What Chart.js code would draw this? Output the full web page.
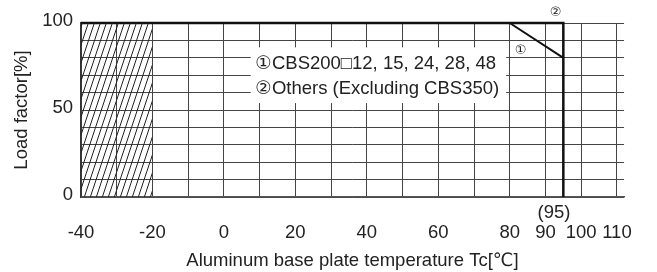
<!DOCTYPE html>
<html>
<head>
<meta charset="utf-8">
<script src="https://cdn.jsdelivr.net/npm/chart.js@4/dist/chart.umd.min.js"></script>
<style>
  html, body { margin: 0; padding: 0; background: #fff; }
  #wrap { width: 657px; height: 272px; }
</style>
</head>
<body>
<div id="wrap"><canvas id="derating"></canvas></div>
<script>
// derating curves, temperature [C] vs load factor [%]
const curve1Temp = [80, 95];
const curve1Load = [100, 80];
const curve2Temp = [-40, 95, 95];
const curve2Load = [100, 100, 0];
const hatchTemp = [-40, -20];
const hatchLoad = [100, 100];
const xTickLabels = [-40, -20, 0, 20, 40, 60, 80, 90, 100, 110];
const yTickLabels = [0, 50, 100];
const legendLines = ['\u2460CBS200\u25A112, 15, 24, 28, 48', '\u2461Others (Excluding CBS350)'];

const FONT = "'Liberation Sans', Arial, 'DejaVu Sans', sans-serif";
const INK = '#222';
const FS = 18.5;

function hatchPattern() {
  const c = document.createElement('canvas');
  c.width = 6; c.height = 18;
  const g = c.getContext('2d');
  g.strokeStyle = '#222';
  g.lineWidth = 1;
  g.beginPath();
  g.moveTo(0, 18); g.lineTo(6, 0);
  g.moveTo(-6, 18); g.lineTo(0, 0);
  g.moveTo(6, 18); g.lineTo(12, 0);
  g.stroke();
  return c.getContext('2d').createPattern(c, 'repeat');
}

function pts(xs, ys) {
  return xs.map((x, i) => ({ x: x, y: ys[i] }));
}

const notes = {
  id: 'notes',
  afterDatasetsDraw(chart) {
    const ctx = chart.ctx;
    const xs = chart.scales.x, ys = chart.scales.y;
    ctx.save();
    // white box behind the legend text
    const bx0 = xs.getPixelForValue(7.5), bx1 = xs.getPixelForValue(79);
    const by0 = ys.getPixelForValue(86), by1 = ys.getPixelForValue(54);
    ctx.fillStyle = '#fff';
    ctx.fillRect(bx0, by0, bx1 - bx0, by1 - by0);
    ctx.fillStyle = INK;
    ctx.font = FS + 'px ' + FONT;
    ctx.textAlign = 'left';
    ctx.textBaseline = 'middle';
    ctx.fillText(legendLines[0], xs.getPixelForValue(8.8), ys.getPixelForValue(76.5));
    ctx.fillText(legendLines[1], xs.getPixelForValue(8.8), ys.getPixelForValue(62));
    // curve markers
    ctx.font = '13px ' + FONT;
    ctx.textAlign = 'center';
    ctx.fillText('\u2460', xs.getPixelForValue(83), ys.getPixelForValue(84.5));
    ctx.fillText('\u2461', xs.getPixelForValue(92.8), ys.getPixelForValue(106));
    // (95) mark under the axis
    ctx.font = FS + 'px ' + FONT;
    ctx.fillText('(95)', xs.getPixelForValue(92.4), ys.bottom + 16);
    ctx.restore();
  }
};

new Chart(document.getElementById('derating'), {
  type: 'scatter',
  data: {
    datasets: [
      {
        data: pts(hatchTemp, hatchLoad),
        showLine: true,
        borderWidth: 0,
        pointRadius: 0,
        fill: 'origin',
        backgroundColor: hatchPattern()
      },
      {
        data: pts(curve1Temp, curve1Load),
        showLine: true,
        borderColor: '#111',
        borderWidth: 2,
        pointRadius: 0,
        clip: false
      },
      {
        data: pts(curve2Temp, curve2Load),
        showLine: true,
        borderColor: '#111',
        borderWidth: 2.5,
        pointRadius: 0,
        clip: false
      }
    ]
  },
  options: {
    responsive: true,
    maintainAspectRatio: false,
    animation: false,
    events: [],
    layout: { padding: { top: 23, right: 25, left: 0, bottom: 0 } },
    plugins: { legend: { display: false }, tooltip: { enabled: false } },
    scales: {
      x: {
        type: 'linear',
        min: -40,
        max: 112,
        afterFit: s => { s.height = 75; },
        afterBuildTicks: s => {
          const t = [];
          for (let v = -40; v <= 110; v += 10) t.push({ value: v });
          s.ticks = t;
        },
        ticks: {
          autoSkip: false,
          maxRotation: 0,
          padding: 25,
          color: INK,
          font: { family: FONT, size: FS },
          callback: v => xTickLabels.includes(v) ? String(v) : ''
        },
        grid: { color: '#444', lineWidth: 1, drawTicks: false },
        border: { color: '#555', width: 1.5 },
        title: {
          display: true,
          text: 'Aluminum base plate temperature Tc[\u2103]',
          color: INK,
          font: { family: FONT, size: FS },
          padding: 0
        }
      },
      y: {
        min: 0,
        max: 100,
        afterFit: s => { s.width = 81; },
        afterBuildTicks: s => {
          const t = [];
          for (let v = 0; v <= 100; v += 10) t.push({ value: v });
          s.ticks = t;
        },
        ticks: {
          autoSkip: false,
          padding: 8,
          labelOffset: -2,
          color: INK,
          font: { family: FONT, size: FS },
          callback: v => yTickLabels.includes(v) ? String(v) : ''
        },
        grid: { color: '#444', lineWidth: 1, drawTicks: false },
        border: { color: '#333', width: 1.5 },
        title: {
          display: true,
          text: 'Load factor[%]',
          color: INK,
          font: { family: FONT, size: FS },
          padding: { top: 11, bottom: 0 }
        }
      }
    }
  },
  plugins: [notes]
});
</script>
</body>
</html>
